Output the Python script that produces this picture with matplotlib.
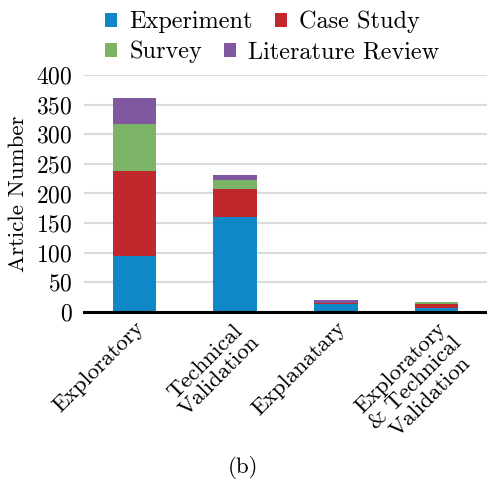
import matplotlib
matplotlib.use('Agg')
import matplotlib.pyplot as plt
import numpy as np

plt.rcParams['font.family'] = ['cmr10', 'DejaVu Serif']
plt.rcParams['axes.formatter.use_mathtext'] = True

categories = ['Exploratory', 'Technical\nValidation', 'Explanatary',
              'Exploratory\n& Technical\nValidation']
series = ['Experiment', 'Case Study', 'Survey', 'Literature Review']
experiment = [95, 160, 13, 7]
case_study = [143, 47, 2, 6]
survey = [79, 16, 0, 4]
lit_review = [44, 8, 5, 0]
colors = ['#0e88c7', '#c0282e', '#7cb467', '#7f58a0']
yticks = [0, 50, 100, 150, 200, 250, 300, 350, 400]

FS = 17
FS_LEG = 17.5

fig = plt.figure(figsize=(4.87, 4.84), dpi=100)
ax = fig.add_axes([0.1725, 0.3554, 0.8275, 0.4897])

x = np.arange(len(categories))
bottom = np.zeros(len(categories))
handles = []
for name, vals, c in zip(series, [experiment, case_study, survey, lit_review], colors):
    h = ax.bar(x, vals, 0.43, bottom=bottom, color=c, label=name, zorder=3)
    handles.append(h)
    bottom += np.array(vals)

ax.set_xlim(-0.5, 3.5)
ax.set_ylim(0, 400)
ax.set_yticks(yticks)
ax.yaxis.grid(True, color='#d9dbde', lw=1.5, zorder=0)
ax.tick_params(axis='y', length=0, labelsize=FS, pad=8)
ax.tick_params(axis='x', length=0, labelsize=16.5, pad=4)
ax.set_xticks(x)
ax.set_xticklabels(categories, rotation=45, ha='right', rotation_mode='anchor',
                   multialignment='center', linespacing=1.1)
for s in ['top', 'left', 'right']:
    ax.spines[s].set_visible(False)
ax.spines['bottom'].set_linewidth(2.2)
ax.spines['bottom'].set_zorder(4)
ax.set_ylabel('Article Number', fontsize=16.5, labelpad=6)

# legend: two rows, each laid out on its own (columns not aligned)
leg_kw = dict(loc='center left', ncol=2, frameon=False, fontsize=FS_LEG,
              handlelength=0.5, handleheight=0.5, handletextpad=0.5,
              columnspacing=0.9, borderpad=0.0, borderaxespad=0.0)
leg1 = fig.legend([handles[0], handles[1]], [series[0], series[1]],
                  bbox_to_anchor=(105 / 487, 1 - 22 / 484), **leg_kw)
leg2 = fig.legend([handles[2], handles[3]], [series[2], series[3]],
                  bbox_to_anchor=(105 / 487, 1 - 52 / 484), **leg_kw)

fig.text(0.5, 0.022, '(b)', ha='center', fontsize=16.5)

fig.savefig('out.png', dpi=100)
